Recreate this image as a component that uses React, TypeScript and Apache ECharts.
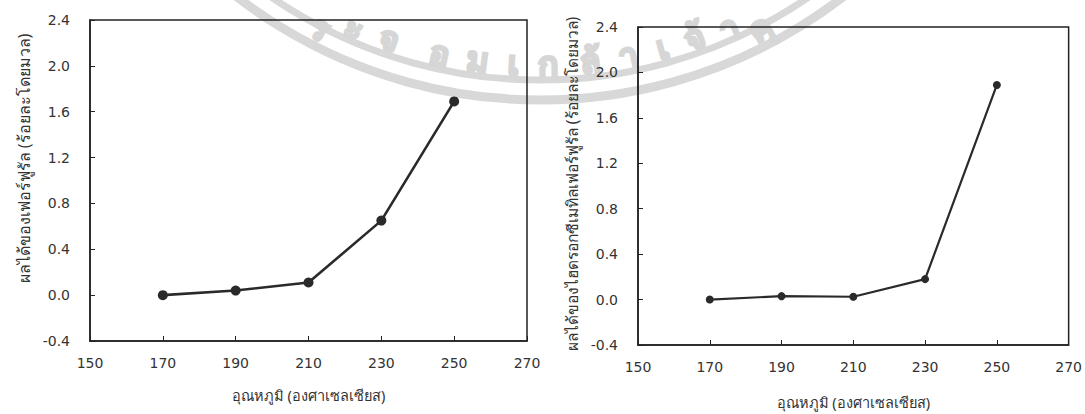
import React, { useEffect, useRef } from "react";
import * as echarts from "echarts";

const temps = [170, 190, 210, 230, 250];
const furfuralYield = [0.0, 0.04, 0.11, 0.65, 1.69];
const hmfYield = [0.0, 0.03, 0.025, 0.18, 1.89];
const xTitle = "อุณหภูมิ (องศาเซลเซียส)";
const yTitleLeft = "ผลได้ของเฟอร์ฟูรัล (ร้อยละโดยมวล)";
const yTitleRight = "ผลได้ของไฮดรอกซีเมทิลเฟอร์ฟูรัล (ร้อยละโดยมวล)";

// watermark (decorative) letters and their approximate horizontal positions
const wmLetters = ["ร", "ะ", "จ", "อ", "ม", "เ", "ก", "ล้", "า", "เ", "จ้", "า", "คุ"];
const wmX = [320, 354, 390, 440, 478, 514, 548, 590, 628, 662, 694, 728, 760];

const FONT = "DejaVu Sans";
const LABEL_COLOR = "#333";
const WM_CX = 540;
const WM_CY = -397;

function xAxis(gridIndex: number, gap: number) {
  return {
    type: "value",
    gridIndex,
    min: 150,
    max: 270,
    interval: 20,
    name: xTitle,
    nameLocation: "middle",
    nameGap: gap,
    nameTextStyle: { fontFamily: "Noto Sans", fontSize: 14.5, color: LABEL_COLOR },
    axisLine: { show: true, onZero: false, lineStyle: { color: "#222", width: 1.5 } },
    axisTick: { show: true, inside: true, length: 5, lineStyle: { color: "#222" } },
    axisLabel: { fontFamily: FONT, fontSize: 14, color: LABEL_COLOR, margin: 15 },
    splitLine: { show: false },
  };
}

function yAxis(gridIndex: number, name: string, gap: number, size: number, shift: number) {
  return {
    type: "value",
    gridIndex,
    min: -0.4,
    max: 2.4,
    interval: 0.4,
    name,
    nameLocation: "middle",
    nameRotate: 90,
    nameGap: gap,
    nameTextStyle: {
      fontFamily: "Noto Sans",
      fontSize: size,
      color: LABEL_COLOR,
      padding: [0, 0, 0, shift],
    },
    axisLine: { show: true, lineStyle: { color: "#222", width: 1.5 } },
    axisTick: { show: true, inside: true, length: 5, lineStyle: { color: "#222" } },
    axisLabel: {
      fontFamily: FONT,
      fontSize: 14,
      color: LABEL_COLOR,
      margin: 20,
      formatter: (v: number) => v.toFixed(1),
    },
    splitLine: { show: false },
  };
}

export default function App() {
  const ref = useRef<HTMLDivElement>(null);
  useEffect(() => {
    if (!ref.current) return;
    const chart = echarts.init(ref.current, undefined, { renderer: "svg" });
    const ringColor = "#d8d8d8";
    const textR = 460;
    const wmText = wmLetters.map((ch, i) => {
      const dx = wmX[i] - WM_CX;
      const phi = Math.asin(dx / textR);
      const y = WM_CY + Math.sqrt(textR * textR - dx * dx);
      return {
        type: "text",
        silent: true,
        z: -10,
        x: wmX[i],
        y: Math.max(y, 27),
        rotation: phi,
        style: {
          text: ch,
          fill: "#d6d6d6",
          stroke: "#d6d6d6",
          lineWidth: 2.5,
          font: "bold 34px 'Noto Sans'",
          align: "center",
          verticalAlign: "middle",
        },
      };
    });
    chart.setOption({
      animation: false,
      backgroundColor: "#fff",
      graphic: [
        {
          type: "arc",
          silent: true,
          z: -10,
          shape: { cx: WM_CX, cy: WM_CY, r: 497, startAngle: Math.PI * 0.15, endAngle: Math.PI * 0.85 },
          style: { stroke: ringColor, lineWidth: 9, fill: "none" },
        },
        {
          type: "arc",
          silent: true,
          z: -10,
          shape: { cx: WM_CX, cy: WM_CY, r: 477, startAngle: Math.PI * 0.15, endAngle: Math.PI * 0.85 },
          style: { stroke: ringColor, lineWidth: 7, fill: "none" },
        },
        ...wmText,
      ],
      grid: [
        { left: 90, top: 20, right: 558, bottom: 73, show: true, borderColor: "#222", borderWidth: 1.5, backgroundColor: "transparent" },
        { left: 638, top: 27, right: 10, bottom: 69, show: true, borderColor: "#222", borderWidth: 1.5, backgroundColor: "transparent" },
      ],
      xAxis: [xAxis(0, 46), xAxis(1, 49)],
      yAxis: [yAxis(0, yTitleLeft, 58, 16, 44), yAxis(1, yTitleRight, 58, 15.5, 4)],
      series: [
        {
          type: "line",
          xAxisIndex: 0,
          yAxisIndex: 0,
          data: temps.map((t, i) => [t, furfuralYield[i]]),
          symbol: "circle",
          symbolSize: 10,
          lineStyle: { color: "#2a2a2a", width: 2.6 },
          itemStyle: { color: "#2a2a2a" },
        },
        {
          type: "line",
          xAxisIndex: 1,
          yAxisIndex: 1,
          data: temps.map((t, i) => [t, hmfYield[i]]),
          symbol: "circle",
          symbolSize: 8,
          lineStyle: { color: "#2a2a2a", width: 2.2 },
          itemStyle: { color: "#2a2a2a" },
        },
      ],
    });
    return () => chart.dispose();
  }, []);
  return (
    <div
      ref={ref}
      style={{ position: "absolute", left: 0, top: 0, width: 1085, height: 414 }}
    />
  );
}
